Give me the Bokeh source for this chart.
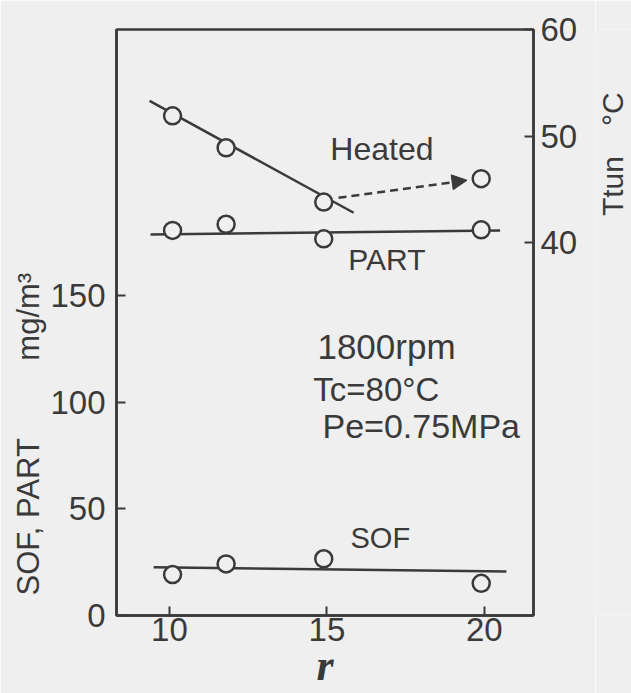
import math
from bokeh.plotting import figure
from bokeh.layouts import row
from bokeh.models import Range1d, LinearAxis, FixedTicker, Label, Arrow, NormalHead, Title
from bokeh.embed import file_html
from bokeh.resources import INLINE

# ---- data ----
r = [10.1, 11.8, 14.9, 19.9]
heated_T = [51.9, 48.9, 43.8, 46.0]        # Ttun, deg C (right axis)
part = [180.5, 183.4, 176.6, 180.8]        # mg/m3 (left axis)
sof = [19.2, 24.2, 26.6, 15.1]             # mg/m3 (left axis)

heated_fit_r = [9.37, 15.85]
heated_fit_T = [53.3, 42.8]
part_fit_r = [9.4, 20.5]
part_fit = [178.6, 180.5]
sof_fit_r = [9.5, 20.7]
sof_fit = [22.6, 20.6]
arrow_r = [15.37, 19.45]
arrow_T = [44.2, 45.85]

x_ticks = [10, 15, 20]
left_ticks = [0, 50, 100, 150]
right_ticks = [40, 50, 60]

BG = "#efefef"
INK = "#3a3a3a"
FONT = "Liberation Sans"
TS = "33px"

p = figure(width=595, height=693, output_backend="svg", toolbar_location=None,
           x_range=Range1d(8.32, 21.56), y_range=Range1d(0, 274.7),
           min_border_left=116, min_border_right=62, min_border_top=29,
           min_border_bottom=78)
p.extra_y_ranges = {"T": Range1d(5, 60)}
p.background_fill_color = BG
p.border_fill_color = BG
p.outline_line_color = INK
p.outline_line_width = 2.5
p.xgrid.visible = False
p.ygrid.visible = False

right = LinearAxis(y_range_name="T")
p.add_layout(right, "right")

p.xaxis.ticker = FixedTicker(ticks=x_ticks)
p.yaxis[0].ticker = FixedTicker(ticks=left_ticks)
right.ticker = FixedTicker(ticks=right_ticks)

for ax in [p.xaxis[0], p.yaxis[0], right]:
    ax.axis_line_color = INK
    ax.axis_line_width = 2.5
    ax.major_tick_line_color = INK
    ax.major_tick_line_width = 2
    ax.major_tick_in = 9
    ax.major_tick_out = 0
    ax.minor_tick_line_color = None
    ax.major_label_text_font = FONT
    ax.major_label_text_font_size = TS
    ax.major_label_text_color = INK
    ax.axis_label_text_color = INK
p.xaxis.major_label_standoff = 2
p.yaxis[0].major_label_standoff = 11
right.major_label_standoff = 7

# x axis title
xa = p.xaxis[0]
xa.axis_label = "r"
xa.axis_label_text_font = "Liberation Serif"
xa.axis_label_text_font_style = "bold italic"
xa.axis_label_text_font_size = "44px"
xa.axis_label_standoff = -3

# left axis title as a side title
p.add_layout(Title(text="SOF, PART\u2003\u2003\u2002mg/m³", align="left", offset=20,
                   text_font=FONT, text_font_size="31px", text_color=INK,
                   text_font_style="normal", standoff=4), "left")

# fitted lines
p.line(heated_fit_r, heated_fit_T, y_range_name="T", line_color=INK, line_width=2.5)
p.line(part_fit_r, part_fit, line_color=INK, line_width=2.5)
p.line(sof_fit_r, sof_fit, line_color=INK, line_width=2.5)

p.add_layout(Arrow(x_start=arrow_r[0], y_start=arrow_T[0], x_end=arrow_r[1], y_end=arrow_T[1],
                   y_range_name="T", line_color=INK, line_width=2.5, line_dash="8 5",
                   end=NormalHead(size=15, fill_color=INK, line_color=INK, line_width=1)))

# points
mk = dict(size=17, fill_color=BG, line_color=INK, line_width=2.5)
p.scatter(r, heated_T, y_range_name="T", **mk)
p.scatter(r, part, **mk)
p.scatter(r, sof, **mk)

def lab(text, x, y, size="32px", **kw):
    p.add_layout(Label(x=x, y=y, text=text, text_font=FONT, text_font_size=size,
                       text_color=INK, text_baseline="bottom", **kw))

lab("Heated", 15.11, 210.1)
lab("PART", 15.68, 159.1, size="30px")
lab("SOF", 15.75, 28.6, size="29px")
lab("1800rpm", 14.70, 117.0, size="35px")
lab("Tc=80°C", 14.57, 97.5, size="33px")
lab("Pe=0.75MPa", 14.86, 80.1, size="34px")

# narrow strip at the right carrying the right-axis title (reads bottom to top)
q = figure(width=36, height=693, output_backend="svg", toolbar_location=None,
           x_range=Range1d(0, 36), y_range=Range1d(0, 693),
           min_border_left=0, min_border_right=0, min_border_top=0, min_border_bottom=0,
           x_axis_location=None, y_axis_location=None)
q.background_fill_color = BG
q.border_fill_color = BG
q.outline_line_color = None
q.xgrid.visible = False
q.ygrid.visible = False
q.add_layout(Label(x=17, y=545.5, text="Ttun\u2003°C", text_font=FONT,
                   text_font_size="30px", text_color=INK, angle=math.pi / 2,
                   text_align="center", text_baseline="middle"))

layout = row(p, q)
open("out.html", "w").write(file_html(layout, INLINE))
